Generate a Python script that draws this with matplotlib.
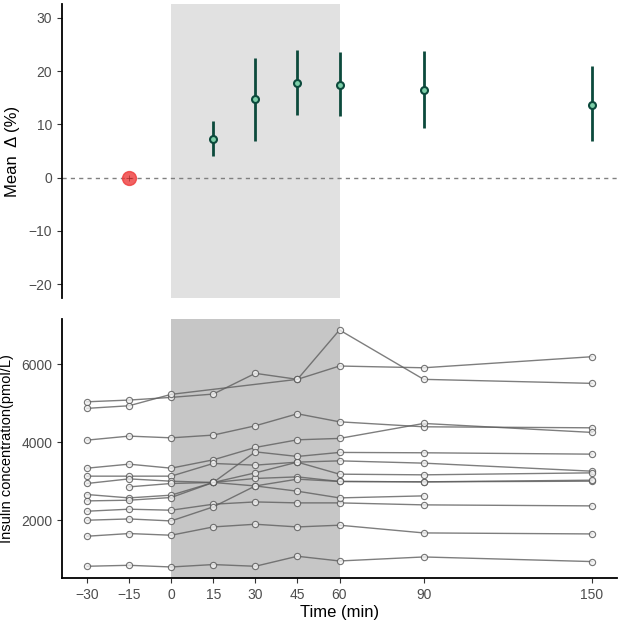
import numpy as np
import matplotlib
matplotlib.use("Agg")
import matplotlib.pyplot as plt

plt.rcParams['font.family'] = ['Liberation Sans', 'DejaVu Sans']

# top panel: mean change (%) with intervals
delta_times = [15, 30, 45, 60, 90, 150]
delta_mean = [7.3, 14.7, 17.7, 17.4, 16.4, 13.7]
delta_low = [4.1, 6.9, 11.7, 11.5, 9.4, 6.8]
delta_high = [10.7, 22.5, 24.0, 23.5, 23.7, 21.0]
baseline_time = -15
baseline_value = 0

# bottom panel: insulin per subject (pmol/L), nan = not measured
times = [-30, -15, 0, 15, 30, 45, 60, 90, 150]
nan = np.nan
subjects = [
    [5040, 5084, 5153, 5238, 5770, 5616, 6883, 5616, 5513],
    [4871, 4938, 5231, nan, nan, 5616, 5958, 5913, 6197],
    [4056, 4159, 4115, 4185, 4424, 4732, 4526, 4398, 4372],
    [3336, 3439, 3336, 3550, 3868, 4064, 4100, 4484, 4254],
    [3131, 3131, 3131, 3457, 3414, 3491, 3524, 3465, 3259],
    [2943, 3061, 3002, 2969, 3072, 3113, 2995, 2985, 3002],
    [nan, 2856, 2943, 2969, 3216, 3491, 3182, 3165, 3216],
    [2660, 2573, 2643, 2969, 3755, 3637, 3740, 3731, 3696],
    [2496, 2514, 2583, 2969, 2880, 3054, 2995, 2985, 3028],
    [2231, 2283, 2257, 2411, 2470, 2445, 2445, 2394, 2368],
    [2000, 2033, 1982, 2342, 2880, 2745, 2573, 2625, nan],
    [1589, 1658, 1615, 1828, 1897, 1828, 1872, 1674, 1648],
    [818, 843, 800, 862, 818, 1075, 954, 1057, 939],
]
xtick_labels = ["-30", "-15", "0", "15", "30", "45", "60", "90", "150"]

W, H = 622, 621
fig = plt.figure(figsize=(W / 100, H / 100), dpi=100)
ax1 = fig.add_axes([62 / W, 1 - 298 / H, 555 / W, 294 / H])
ax2 = fig.add_axes([62 / W, 1 - 578 / H, 555 / W, 259 / H])

xlim = (-38.9, 158.9)
tick_col = "#4d4d4d"

# ---- top panel
ax1.axvspan(0, 60, color="#e1e1e1", lw=0, zorder=0)
ax1.axhline(0, color="#808080", ls=(0, (3, 3)), lw=1, zorder=1)
yerr = [np.array(delta_mean) - np.array(delta_low),
        np.array(delta_high) - np.array(delta_mean)]
ax1.errorbar(delta_times, delta_mean, yerr=yerr, fmt="o", color="#0c4a3c",
             ecolor="#0c4a3c", elinewidth=2, capsize=0, ms=5,
             mfc="#7ccfa8", mec="#0c4a3c", mew=1.5, zorder=3)
ax1.plot([baseline_time], [baseline_value], "o", ms=10, color="#ee3b3b",
         alpha=0.8, mec="#ee3b3b", zorder=3)
ax1.plot([baseline_time], [baseline_value], "+", ms=5, color="#8b1a1a",
         mew=0.6, alpha=0.6, zorder=4)
ax1.set_xlim(xlim)
ax1.set_ylim(-22.6, 32.6)
ax1.set_yticks([-20, -10, 0, 10, 20, 30])
ax1.set_yticklabels(["\u221220", "\u221210", "0", "10", "20", "30"])
ax1.set_xticks([])
for s in ["top", "right", "bottom"]:
    ax1.spines[s].set_visible(False)
ax1.spines["left"].set_linewidth(1.3)
ax1.tick_params(axis="y", labelsize=10, colors="#333333", labelcolor=tick_col,
                length=3.5, width=0.8)
ax1.set_ylabel("Mean  \u0394 (%)", fontsize=12, labelpad=6)

# ---- bottom panel
ax2.axvspan(0, 60, color="#c6c6c6", lw=0, zorder=0)
t = np.array(times)
for vals in subjects:
    v = np.array(vals, dtype=float)
    m = ~np.isnan(v)
    ax2.plot(t[m], v[m], "-o", color="#5e5e5e", lw=1, alpha=0.8, ms=4.5,
             mfc="#f2f2f2", mec="#555555", mew=0.8, zorder=2)
ax2.set_xlim(xlim)
ax2.set_ylim(517, 7165)
ax2.set_xticks(times)
ax2.set_xticklabels([l.replace("-", "\u2212") for l in xtick_labels])
ax2.set_yticks([2000, 4000, 6000])
for s in ["top", "right"]:
    ax2.spines[s].set_visible(False)
ax2.spines["left"].set_linewidth(1.3)
ax2.spines["bottom"].set_linewidth(1.3)
ax2.tick_params(axis="both", labelsize=10, colors="#333333", labelcolor=tick_col,
                length=3.5, width=0.8)
ax2.set_xlabel("Time (min)", fontsize=12, labelpad=2)
ax2.set_ylabel("Insulin concentration(pmol/L)", fontsize=10.5, labelpad=5)

fig.savefig("out.png", dpi=100)
